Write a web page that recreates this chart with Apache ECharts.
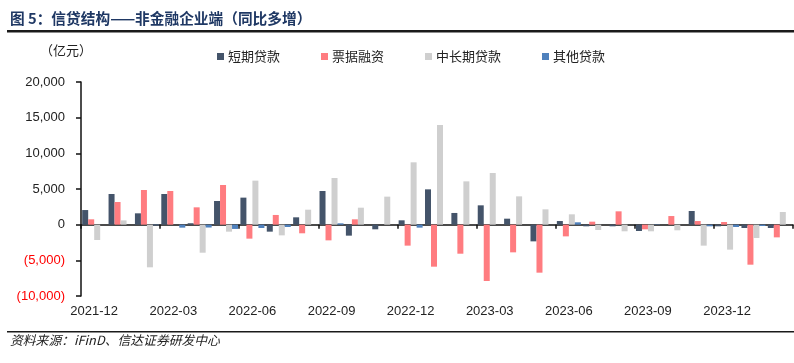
<!DOCTYPE html>
<html><head><meta charset="utf-8">
<script src="https://cdn.jsdelivr.net/npm/echarts@6/dist/echarts.min.js"></script>
<style>html,body{margin:0;padding:0;background:#fff;}#c{width:794px;height:363px;}</style>
</head><body><div id="c"></div>
<script>
const categories = ['2021-12','2022-01','2022-02','2022-03','2022-04','2022-05','2022-06','2022-07','2022-08','2022-09','2022-10','2022-11','2022-12','2023-01','2023-02','2023-03','2023-04','2023-05','2023-06','2023-07','2023-08','2023-09','2023-10','2023-11','2023-12','2024-01','2024-02'];
const shortLoans = [2050,4300,1590,4300,200,3320,3790,-980,1030,4720,-1540,-650,610,4950,1640,2710,840,-2340,510,-230,-230,-890,0,1920,-230,-470,-470];
const billFinancing = [750,3180,4860,4720,2430,5560,-1960,1360,-1210,-2200,750,0,-2940,-5890,-4070,-7900,-3880,-6730,-1640,420,1870,-650,1210,510,370,-5610,-1780];
const mediumLongLoans = [-2150,600,-5980,0,-3930,-980,6170,-1500,2100,6540,2380,3930,8740,13970,6070,7240,3970,2150,1450,-750,-930,-930,-790,-2940,-3500,-1870,1780];
const otherLoans = [0,0,-80,-420,-400,-600,-470,-330,0,190,0,0,-420,0,0,0,0,0,330,0,0,50,0,-230,-330,-190,0];
const seriesNames = ['短期贷款','票据融资','中长期贷款','其他贷款'];
const colors = ['#44546A','#FF7C80','#CFCFCF','#4F81BD'];

const chart = echarts.init(document.getElementById('c'));
const numFont = 'Liberation Sans, Arial, sans-serif';
const cjkFont = '"Noto Sans CJK SC", sans-serif';
function fmt(v){
  const a = Math.abs(v).toLocaleString('en-US');
  return v < 0 ? '{neg|(' + a + ')}' : a;
}
const seriesData = [shortLoans, billFinancing, mediumLongLoans, otherLoans];
chart.setOption({
  animation:false,
  color: colors,
  graphic:[
    {type:'text', left:10, top:11, style:{text:'图 5：信贷结构——非金融企业端（同比多增）', font:'bold 14.7px "Noto Sans CJK SC", sans-serif', fill:'#1F3864'}},
    {type:'rect', shape:{x:7,y:30,width:787,height:2.5}, style:{fill:'#1a1a1a'}},
    {type:'text', left:40, top:44, style:{text:'（亿元）', font:'13px "Noto Sans CJK SC", sans-serif', fill:'#222'}},
    {type:'rect', shape:{x:7,y:331,width:787,height:1.5}, style:{fill:'#1a1a1a'}},
    {type:'text', left:10, top:334, style:{text:'资料来源：iFinD、信达证券研发中心', font:'italic 12.8px "Noto Sans CJK SC", sans-serif', fill:'#222'}}
  ],
  legend:{
    data: seriesNames, left:212, top:45, itemWidth:7, itemHeight:7, itemGap:41,
    icon:'rect',
    textStyle:{fontFamily:cjkFont, fontSize:13, color:'#222', padding:[0,0,0,-1]}
  },
  grid:{left:81, right:1, top:82, bottom:67},
  xAxis:[
    {type:'category', data:categories, position:'bottom', boundaryGap:true,
     axisLine:{show:false, onZero:false}, axisTick:{show:false},
     axisLabel:{interval:2, margin:9, fontFamily:numFont, fontSize:13, color:'#222'}},
    {type:'category', data:categories, position:'bottom', boundaryGap:true,
     axisLine:{show:true, onZero:true, lineStyle:{color:'#111', width:1.5}},
     axisTick:{show:true, interval:2, length:4, lineStyle:{color:'#111', width:1.5}},
     axisLabel:{show:false}}
  ],
  yAxis:{
    type:'value', min:-10000, max:20000, interval:5000,
    axisLine:{show:true, lineStyle:{color:'#111', width:1.5}},
    axisTick:{show:true, length:5, lineStyle:{color:'#111', width:1.5}},
    splitLine:{show:false},
    axisLabel:{margin:16, fontFamily:numFont, fontSize:13, color:'#222', formatter:fmt,
      rich:{neg:{color:'#FF0000', fontFamily:numFont, fontSize:13}}}
  },
  series: seriesNames.map((n,i)=>({
    name:n, type:'bar', xAxisIndex:0, data:seriesData[i],
    barWidth:6, barGap:'0%', barCategoryGap:'8%',
    itemStyle:{color:colors[i]}
  }))
});
</script></body></html>
